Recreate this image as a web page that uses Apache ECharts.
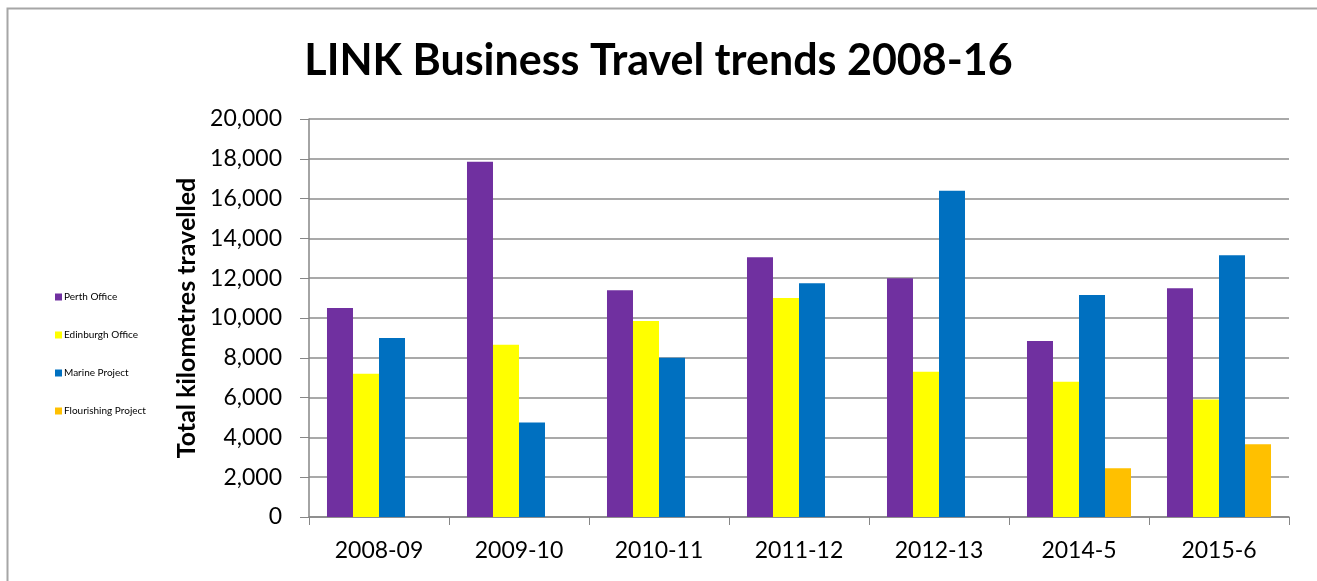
<!DOCTYPE html>
<html><head><meta charset="utf-8">
<script src="https://cdn.jsdelivr.net/npm/echarts@6/dist/echarts.min.js"></script>
<style>html,body{margin:0;padding:0;background:#fff}#c{width:1317px;height:581px}</style>
</head><body><div id="c"></div>
<script>
const categories = ['2008-09','2009-10','2010-11','2011-12','2012-13','2014-5','2015-6'];
const perth = [10500, 17850, 11400, 13050, 12000, 8850, 11500];
const edinburgh = [7200, 8650, 9850, 11000, 7300, 6800, 5900];
const marine = [9000, 4750, 8000, 11750, 16400, 11150, 13150];
const flourishing = [null, null, null, null, null, 2450, 3650];
const seriesNames = ['Perth Office','Edinburgh Office','Marine Project','Flourishing Project'];
const colors = ['#7030A0','#FFFF00','#0070C0','#FFC000'];
const FONT = 'Lato';
const chart = echarts.init(document.getElementById('c'));
const datasets = [perth, edinburgh, marine, flourishing];
chart.setOption({
  animation: false,
  textStyle: {fontFamily: FONT},
  title: {text: 'LINK Business Travel trends 2008-16', left: 'center', top: 35,
    textStyle: {fontFamily: FONT, fontSize: 43, fontWeight: 'bold', color: '#000'}},
  graphic: [{type: 'rect', left: 5, top: 6, shape: {width: 1320, height: 600},
    style: {fill: 'none', stroke: '#a6a6a6', lineWidth: 2}, silent: true}],
  legend: {orient: 'vertical', left: 50, top: 287, itemWidth: 7, itemHeight: 7, itemGap: 28,
    icon: 'rect', textStyle: {fontSize: 10, color: '#000', fontFamily: FONT, padding: [0, 0, 0, -3]},
    data: seriesNames},
  grid: {left: 309, right: 28, top: 119, bottom: 64},
  xAxis: {type: 'category', data: categories,
    axisLine: {lineStyle: {color: '#868686', width: 1.5}},
    axisTick: {show: true, length: 8, lineStyle: {color: '#868686'}},
    axisLabel: {fontSize: 23, color: '#000', margin: 22}},
  yAxis: {type: 'value', min: 0, max: 20000, interval: 2000,
    name: 'Total kilometres travelled', nameLocation: 'middle', nameGap: 110,
    nameTextStyle: {fontSize: 25, fontWeight: 'bold', color: '#000'},
    axisLine: {show: true, lineStyle: {color: '#868686', width: 1.5}},
    axisTick: {show: true, length: 9, lineStyle: {color: '#868686'}},
    splitLine: {lineStyle: {color: '#8c8c8c', width: 1.5}},
    axisLabel: {fontSize: 23, color: '#000', margin: 27,
      formatter: v => v.toLocaleString('en-US')}},
  series: datasets.map((d, i) => ({
    name: seriesNames[i], type: 'bar', data: d, barGap: '0%', barCategoryGap: '25.7%',
    itemStyle: {color: colors[i]}
  }))
});
</script></body></html>
